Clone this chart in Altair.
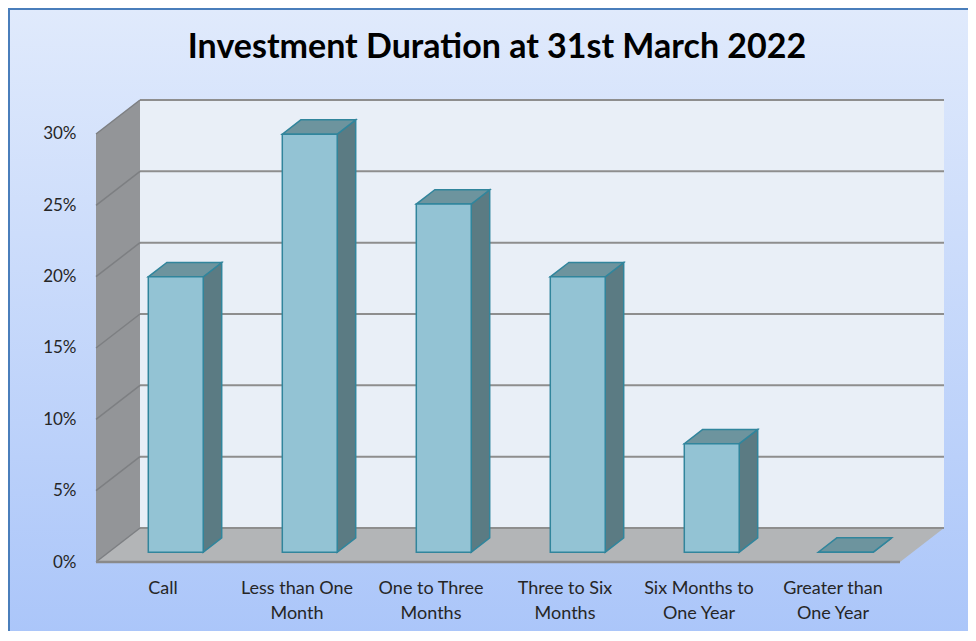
import altair as alt
import pandas as pd

# ---- data ----
categories = ["Call", "Less than One\nMonth", "One to Three\nMonths", "Three to Six\nMonths",
              "Six Months to\nOne Year", "Greater than\nOne Year"]
values = [19.3, 29.3, 24.4, 19.3, 7.6, 0.0]          # percent
y_ticks = [0, 5, 10, 15, 20, 25, 30]
title_text = "Investment Duration at 31st March 2022"

# ---- 3D geometry (in data units) ----
N = len(categories)
YMAX = 30.0
DX = 44 / 134      # depth shift in category units
DY = 34 / 14.267   # depth shift in percent units
T0, T1 = 0.29, 0.71
HALF = 0.205

W, H = 848, 462
xs = alt.Scale(domain=[0, N + DX], nice=False, zero=False)
ys = alt.Scale(domain=[0, YMAX + DY], nice=False, zero=False)

front_rows, side_rows, top_rows = [], [], []
for i, (c, v) in enumerate(zip(categories, values)):
    x0 = i + 0.5 - HALF + T0 * DX
    x1 = x0 + 2 * HALF
    dd = (T1 - T0) * DX
    front_rows.append(dict(cat=c, x=x0, x2=x1, y=T0 * DY, y2=v + T0 * DY))
    side_rows += [dict(cat=c, x=x1, y=v + T0 * DY, y2=T0 * DY),
                  dict(cat=c, x=x1 + dd, y=v + T1 * DY, y2=T1 * DY)]
    top_rows += [dict(cat=c, y=v + T0 * DY, x=x0, x2=x1),
                 dict(cat=c, y=v + T1 * DY, x=x0 + dd, x2=x1 + dd)]
front_df = pd.DataFrame(front_rows)
side_df = pd.DataFrame(side_rows)
top_df = pd.DataFrame(top_rows)

one = pd.DataFrame({"a": [0]})

bg = alt.Chart(one).mark_rect(
    fill=alt.Gradient(gradient="linear", x1=0, y1=0, x2=0, y2=1,
                      stops=[alt.GradientStop(color="#e0eafc", offset=0),
                             alt.GradientStop(color="#a7c3f9", offset=1)]),
    stroke="#4a7ebb", strokeWidth=2
).encode(x=alt.value(-87), x2=alt.value(W + 60), y=alt.value(-91), y2=alt.value(H + 120))

back_wall = alt.Chart(pd.DataFrame({"x": [DX], "x2": [N + DX], "y": [DY], "y2": [YMAX + DY]})).mark_rect(
    fill="#e9eff7").encode(
    x=alt.X("x:Q", scale=xs, axis=None), x2="x2:Q",
    y=alt.Y("y:Q", scale=ys), y2="y2:Q")

left_wall = alt.Chart(pd.DataFrame({"x": [0, DX], "y": [YMAX, YMAX + DY], "y2": [0, DY]})).mark_area(
    fill="#939598", orient="vertical").encode(
    x=alt.X("x:Q", scale=xs, axis=None), y=alt.Y("y:Q", scale=ys), y2="y2:Q")

floor = alt.Chart(pd.DataFrame({"y": [0, DY], "x": [0, DX], "x2": [N, N + DX]})).mark_area(
    fill="#b3b5b7", orient="horizontal").encode(
    y=alt.Y("y:Q", scale=ys), x=alt.X("x:Q", scale=xs, axis=None), x2="x2:Q")

grid_df = pd.DataFrame({"v": y_ticks})
back_grid = alt.Chart(grid_df).mark_rule(color="#8e8e8e", strokeWidth=2).transform_calculate(
    yy=f"datum.v + {DY}", xa=f"{DX}", xb=f"{N + DX}").encode(
    x=alt.X("xa:Q", scale=xs, axis=None), x2="xb:Q", y=alt.Y("yy:Q", scale=ys))

left_grid = alt.Chart(grid_df).mark_rule(color="#7d7f82", strokeWidth=1.5).transform_calculate(
    yy=f"datum.v + {DY}", xa="0", xb=f"{DX}").encode(
    x=alt.X("xa:Q", scale=xs, axis=None), x2="xb:Q",
    y=alt.Y("v:Q", scale=ys,
            axis=alt.Axis(values=y_ticks, labelExpr="datum.value + '%'", domain=False, ticks=False,
                          grid=False, title=None, labelPadding=20, labelFontSize=17,
                          labelFont="Lato", labelColor="#262626", zindex=1)),
    y2="yy:Q")

front_edge = alt.Chart(pd.DataFrame({"x": [0], "x2": [N], "y": [0]})).mark_rule(
    color="#8a8a8a", strokeWidth=2.5).encode(
    x=alt.X("x:Q", scale=xs, axis=None), x2="x2:Q", y=alt.Y("y:Q", scale=ys))

EDGE = "#31859c"
sides = alt.Chart(side_df).mark_area(fill="#5b7b83", stroke=EDGE, strokeWidth=1.5, orient="vertical").encode(
    x=alt.X("x:Q", scale=xs, axis=None), y=alt.Y("y:Q", scale=ys), y2="y2:Q", detail="cat:N")

tops = alt.Chart(top_df).mark_area(fill="#6d949e", stroke=EDGE, strokeWidth=1.5, orient="horizontal").encode(
    y=alt.Y("y:Q", scale=ys), x=alt.X("x:Q", scale=xs, axis=None), x2="x2:Q", detail="cat:N")

fronts = alt.Chart(front_df).mark_rect(fill="#93c3d4", stroke=EDGE, strokeWidth=1.5).encode(
    x=alt.X("x:Q", scale=xs, axis=None), x2="x2:Q", y=alt.Y("y:Q", scale=ys), y2="y2:Q")

labels_df = pd.DataFrame({"cat": categories, "idx": list(range(N))})
xlabels = alt.Chart(labels_df).mark_text(
    font="Lato", fontSize=18, color="#262626", baseline="top", align="center",
    lineBreak="\n", lineHeight=25).transform_calculate(
    xc="datum.idx + 0.5").encode(
    x=alt.X("xc:Q", scale=xs, axis=None), y=alt.value(H + 18), text="cat:N")

title = alt.Chart(one).mark_text(
    text=title_text, font="Lato", fontSize=34, fontWeight="bold", color="#000000",
    align="center", baseline="middle").encode(x=alt.value(401), y=alt.value(-52))

chart = alt.layer(bg, back_wall, left_wall, floor, back_grid, left_grid, front_edge,
                  sides, tops, fronts, xlabels, title).properties(
    width=W, height=H,
    autosize=alt.AutoSizeParams(type="none"),
    padding={"left": 88, "top": 92, "right": 24, "bottom": 69},
).configure_view(stroke=None)

chart.save("out.html", embed_options={"renderer": "svg", "actions": False})
